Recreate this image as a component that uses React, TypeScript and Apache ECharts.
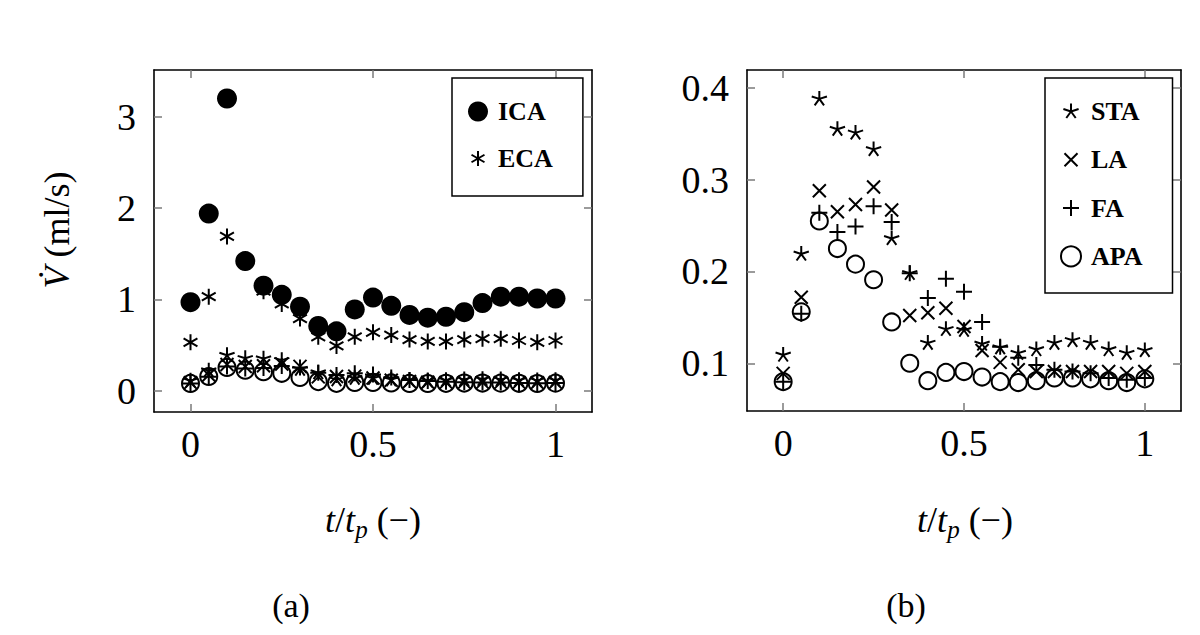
import React, { useEffect, useRef } from "react";
import * as echarts from "echarts";

const T = [0, 0.05, 0.1, 0.15, 0.2, 0.25, 0.3, 0.35, 0.4, 0.45, 0.5, 0.55, 0.6, 0.65, 0.7, 0.75, 0.8, 0.85, 0.9, 0.95, 1];
const ICA = [0.97, 1.94, 3.2, 1.42, 1.15, 1.05, 0.92, 0.71, 0.65, 0.89, 1.02, 0.93, 0.83, 0.8, 0.81, 0.86, 0.96, 1.03, 1.03, 1.01, 1.01];
const ECA = [0.53, 1.03, 1.69, 1.4, 1.09, 0.95, 0.79, 0.59, 0.49, 0.59, 0.64, 0.61, 0.56, 0.54, 0.54, 0.56, 0.57, 0.57, 0.55, 0.53, 0.55];
const STA = [0.109, 0.219, 0.388, 0.355, 0.351, 0.333, 0.236, 0.198, 0.122, 0.137, 0.136, 0.121, 0.117, 0.111, 0.115, 0.122, 0.125, 0.122, 0.115, 0.111, 0.114];
const LA = [0.089, 0.172, 0.288, 0.265, 0.273, 0.292, 0.267, 0.152, 0.155, 0.16, 0.14, 0.114, 0.101, 0.093, 0.091, 0.091, 0.091, 0.091, 0.091, 0.089, 0.091];
const FA = [0.08, 0.154, 0.264, 0.243, 0.249, 0.271, 0.254, 0.198, 0.171, 0.192, 0.178, 0.145, 0.118, 0.106, 0.098, 0.093, 0.091, 0.089, 0.084, 0.082, 0.084];
const APA = [0.08, 0.156, 0.255, 0.225, 0.208, 0.191, 0.145, 0.1, 0.081, 0.09, 0.091, 0.085, 0.08, 0.079, 0.081, 0.084, 0.084, 0.083, 0.081, 0.079, 0.083];

const X_TICKS = [0, 0.5, 1];
const Y_TICKS_A = [0, 1, 2, 3];
const Y_TICKS_B = [0.1, 0.2, 0.3, 0.4];

const FONT = "Liberation Serif";

// unit-box segment sets
const SEG_PLUS = [[0, -1, 0, 1], [-1, 0, 1, 0]];
const SEG_X = [[-1, -1, 1, 1], [-1, 1, 1, -1]];
const SEG_AST = [[0, -1, 0, 1], [-0.866, -0.5, 0.866, 0.5], [-0.866, 0.5, 0.866, -0.5]];
const SEG_STAR = [90, 162, 234, 306, 18].map((a) => {
  const r = (a * Math.PI) / 180;
  return [0, 0, Math.cos(r), -Math.sin(r)];
});

function symPath(segs: number[][], s: number): string {
  const f = (v: number) => (v * s).toFixed(4);
  let d = "M-1 -1 L-1 -1 M1 1 L1 1 ";
  segs.forEach((g) => {
    d += `M${f(g[0])} ${f(g[1])} L${f(g[2])} ${f(g[3])} `;
  });
  return "path://" + d.trim();
}

export default function App() {
  const ref = useRef<HTMLDivElement>(null);
  useEffect(() => {
    document.body.style.margin = "0";
    const chart = echarts.init(ref.current!, undefined, { renderer: "svg" });

    const lineSym = { color: "#000", borderColor: "#000", borderWidth: 2, opacity: 1 };
    const openCircle = { color: "rgba(0,0,0,0)", borderColor: "#000", borderWidth: 2, opacity: 1 };
    const tickStyle = { color: "#7a7a7a", width: 1.5 };
    const axisLineStyle = { show: true, onZero: false, lineStyle: { color: "#000", width: 1.6 } };

    const xAxisFor = (gi: number, pos: "bottom" | "top") => ({
      type: "value",
      gridIndex: gi,
      position: pos,
      min: -0.1,
      max: 1.1,
      axisLine: axisLineStyle,
      splitLine: { show: false },
      axisTick: { show: true, inside: true, length: 8, customValues: X_TICKS, lineStyle: tickStyle },
      axisLabel: {
        show: pos === "bottom",
        customValues: X_TICKS,
        fontFamily: FONT,
        fontSize: 38,
        color: "#000",
        margin: 13,
        formatter: (v: number) => String(v),
      },
    });
    const yAxisFor = (gi: number, pos: "left" | "right", min: number, max: number, ticks: number[]) => ({
      type: "value",
      gridIndex: gi,
      position: pos,
      min,
      max,
      axisLine: axisLineStyle,
      splitLine: { show: false },
      axisTick: { show: true, inside: true, length: 8, customValues: ticks, lineStyle: tickStyle },
      axisLabel: {
        show: pos === "left",
        customValues: ticks,
        fontFamily: FONT,
        fontSize: 38,
        color: "#000",
        margin: 18,
        formatter: (v: number) => String(v),
      },
    });

    const pts = (vals: number[]) => T.map((t, i) => [t, vals[i]]);

    const smallSeries = (xi: number, yi: number) => [
      { name: "STA", type: "scatter", xAxisIndex: xi, yAxisIndex: yi, data: pts(STA), symbol: symPath(SEG_STAR, 1), symbolSize: 16, itemStyle: lineSym },
      { name: "LA", type: "scatter", xAxisIndex: xi, yAxisIndex: yi, data: pts(LA), symbol: symPath(SEG_X, 1), symbolSize: 13, itemStyle: lineSym },
      { name: "FA", type: "scatter", xAxisIndex: xi, yAxisIndex: yi, data: pts(FA), symbol: symPath(SEG_PLUS, 1), symbolSize: 16, itemStyle: lineSym },
      { name: "APA", type: "scatter", xAxisIndex: xi, yAxisIndex: yi, data: pts(APA), symbol: "circle", symbolSize: 17, itemStyle: openCircle },
    ];

    const legendText = { fontFamily: FONT, fontWeight: "bold", fontSize: 26, color: "#000", padding: [0, 0, 0, 5] };

    chart.setOption({
      animation: false,
      backgroundColor: "#fff",
      grid: [
        { left: 154, top: 70, width: 438, height: 342, show: false },
        { left: 747, top: 70, width: 434, height: 341, show: false },
      ],
      xAxis: [xAxisFor(0, "bottom"), xAxisFor(0, "top"), xAxisFor(1, "bottom"), xAxisFor(1, "top")],
      yAxis: [
        yAxisFor(0, "left", -0.233, 3.512, Y_TICKS_A),
        yAxisFor(0, "right", -0.233, 3.512, Y_TICKS_A),
        yAxisFor(1, "left", 0.048, 0.4195, Y_TICKS_B),
        yAxisFor(1, "right", 0.048, 0.4195, Y_TICKS_B),
      ],
      legend: [
        {
          orient: "vertical",
          left: 452,
          top: 78,
          padding: [20.5, 30, 24.5, 15],
          itemWidth: 20,
          itemHeight: 20,
          itemGap: 21,
          borderColor: "#000",
          borderWidth: 1.5,
          backgroundColor: "#fff",
          selectedMode: false,
          textStyle: legendText,
          data: [
            { name: "ICA", icon: "circle", itemStyle: { color: "#000", borderWidth: 0, opacity: 1 } },
            { name: "ECA", icon: symPath(SEG_AST, 15 / 20), itemStyle: lineSym },
          ],
        },
        {
          orient: "vertical",
          left: 1045,
          top: 78,
          padding: [20.5, 30, 23.5, 15],
          itemWidth: 20,
          itemHeight: 20,
          itemGap: 22.3,
          borderColor: "#000",
          borderWidth: 1.5,
          backgroundColor: "#fff",
          selectedMode: false,
          textStyle: legendText,
          data: [
            { name: "STA", icon: symPath(SEG_STAR, 16 / 20), itemStyle: lineSym },
            { name: "LA", icon: symPath(SEG_X, 13 / 20), itemStyle: lineSym },
            { name: "FA", icon: symPath(SEG_PLUS, 16 / 20), itemStyle: lineSym },
            { name: "APA", icon: "circle", itemStyle: openCircle },
          ],
        },
      ],
      series: [
        { name: "ICA", type: "scatter", xAxisIndex: 0, yAxisIndex: 0, data: pts(ICA), symbol: "circle", symbolSize: 20, itemStyle: { color: "#000", opacity: 1 } },
        { name: "ECA", type: "scatter", xAxisIndex: 0, yAxisIndex: 0, data: pts(ECA), symbol: symPath(SEG_AST, 1), symbolSize: 16, itemStyle: lineSym },
        ...smallSeries(0, 0),
        ...smallSeries(2, 2),
      ],
      graphic: [
        {
          type: "text",
          x: 57,
          y: 230,
          rotation: Math.PI / 2,
          style: {
            text: "{i|V\u0307} (ml/s)",
            fontFamily: FONT,
            fontSize: 36,
            fill: "#000",
            align: "center",
            verticalAlign: "middle",
            rich: { i: { fontStyle: "italic", fontFamily: FONT, fontSize: 36 } },
          },
        },
        ...[373, 965].map((cx) => ({
          type: "text",
          x: cx,
          y: 520,
          style: {
            text: "{i|t}{n|/}{i|t}{s|p}{n| (\u2212)}",
            fontFamily: FONT,
            fontSize: 36,
            fill: "#000",
            align: "center",
            verticalAlign: "middle",
            rich: {
              i: { fontStyle: "italic", fontFamily: FONT, fontSize: 36, lineHeight: 44 },
              n: { fontFamily: FONT, fontSize: 36, lineHeight: 44 },
              s: { fontStyle: "italic", fontFamily: FONT, fontSize: 25, lineHeight: 25, verticalAlign: "bottom" },
            },
          },
        })),
        { type: "text", x: 291, y: 605, style: { text: "(a)", fontFamily: FONT, fontSize: 34, fill: "#000", align: "center", verticalAlign: "middle" } },
        { type: "text", x: 906, y: 605, style: { text: "(b)", fontFamily: FONT, fontSize: 34, fill: "#000", align: "center", verticalAlign: "middle" } },
      ],
    });
    return () => chart.dispose();
  }, []);
  return <div ref={ref} style={{ width: 1200, height: 635 }} />;
}
